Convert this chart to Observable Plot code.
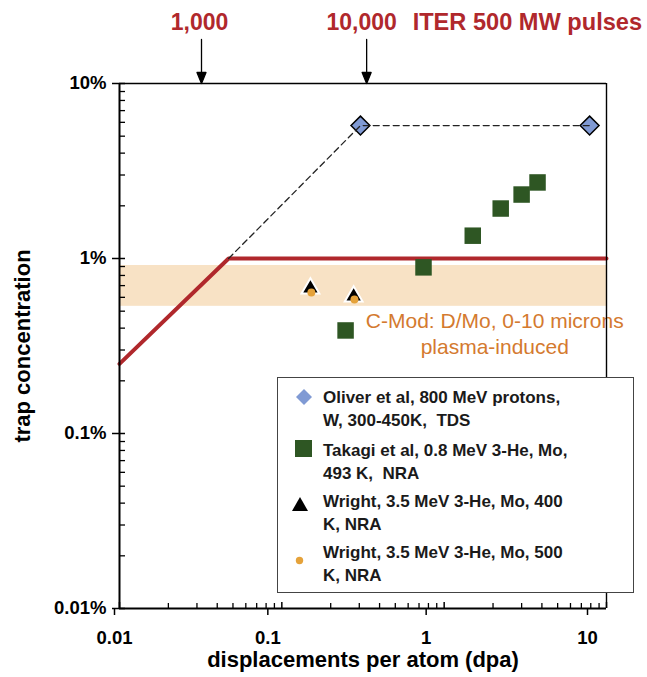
<!DOCTYPE html>
<html>
<head>
<meta charset="utf-8">
<script src="https://cdn.jsdelivr.net/npm/d3@7"></script>
<script src="https://cdn.jsdelivr.net/npm/@observablehq/plot@0.6"></script>
<style>
  html, body { margin: 0; padding: 0; background: #fff; }
  #wrap { position: relative; width: 647px; height: 677px; font-family: "Liberation Sans", Arial, sans-serif; }
  #legend { position: absolute; left: 277px; top: 377px; width: 357px; height: 216px; box-sizing: border-box;
            border: 1.5px solid #444; background: #fff; }
  .entry { position: absolute; left: 45px; font-weight: bold; font-size: 17px; line-height: 23px; color: #1a1a1a; white-space: pre; }
  .mk { position: absolute; }
</style>
</head>
<body>
<div id="wrap"></div>
<script>
// ---- data ----
const xTicks = [0.01, 0.1, 1, 10];
const yTicks = [0.01, 0.1, 1, 10];            // percent
const oliverDpa = [0.305, 7.87];
const oliverConc = [5.75, 5.75];
const takagiDpa = [0.247, 0.746, 1.50, 2.23, 3.0, 3.76];
const takagiConc = [0.388, 0.89, 1.35, 1.93, 2.32, 2.72];
const wright400Dpa = [0.150, 0.277];
const wright400Conc = [0.674, 0.607];
const wright500Dpa = [0.152, 0.28];
const wright500Conc = [0.64, 0.583];
const modelDpa = [0.01, 0.047, 10];
const modelConc = [0.25, 1, 1];
const trendDpa = [0.047, 0.305, 7.87];
const trendConc = [1, 5.75, 5.75];
const bandConc = [0.533, 0.912];
const pulseLabels = ["1,000", "10,000"];
const pulseDpa = [0.032, 0.333];
const pulseTitle = "ITER 500 MW pulses";
const cmodText = "C-Mod: D/Mo, 0-10 microns\nplasma-induced";
const cmodPos = {dpa: 2.05, conc: 0.378};
const legendLabels = [
  "Oliver et al, 800 MeV protons,\nW, 300-450K,  TDS",
  "Takagi et al, 0.8 MeV 3-He, Mo,\n493 K,  NRA",
  "Wright, 3.5 MeV 3-He, Mo, 400\nK, NRA",
  "Wright, 3.5 MeV 3-He, Mo, 500\nK, NRA"
];

const zip = (xs, ys) => xs.map((x, i) => ({x, y: ys[i]}));
const minorOf = (ticks) => {
  const out = [];
  for (let i = 0; i < ticks.length - 1; i++) for (let k = 2; k <= 9; k++) out.push(ticks[i] * k);
  return out;
};

const W = 647, H = 677, mL = 119, mR = 41, mT = 83, mB = 69;
const fw = W - mL - mR, fh = H - mT - mB;
const RED = "#B0282C";
const font = "Liberation Sans, Arial, sans-serif";
const xLabelShift = [-5, -14, -18, -19];
const pulseShift = [-2, -5];
const yTop = yTicks[yTicks.length - 1];

const arrowShape = {
  draw(c, l) {
    c.moveTo(0, 0); c.lineTo(0, -l + 9);
    c.moveTo(0, -l); c.lineTo(-4.5, -l + 11); c.lineTo(4.5, -l + 11); c.closePath();
  }
};

const chart = Plot.plot({
  width: W, height: H,
  marginLeft: mL, marginRight: mR, marginTop: mT, marginBottom: mB,
  style: {fontFamily: font, background: "transparent", overflow: "visible"},
  x: {type: "log", domain: [xTicks[0], xTicks[xTicks.length - 1]]},
  y: {type: "log", domain: [yTicks[0], yTop]},
  marks: [
    // band
    Plot.rect([bandConc], {x1: xTicks[0], x2: xTicks[xTicks.length - 1], y1: d => d[0], y2: d => d[1], fill: "#F8E2C5"}),
    // model line
    Plot.line(zip(modelDpa, modelConc), {x: "x", y: "y", stroke: RED, strokeWidth: 4}),
    // data
    Plot.dot(zip(oliverDpa, oliverConc), {x: "x", y: "y", symbol: "diamond2", r: 8.5, fill: "#809AD4", stroke: "#000", strokeWidth: 1.5}),
    Plot.line(zip(trendDpa, trendConc), {x: "x", y: "y", stroke: "#222", strokeWidth: 1.3, strokeDasharray: "6,4"}),
    Plot.dot(zip(takagiDpa, takagiConc), {x: "x", y: "y", symbol: "square", r: 9.3, fill: "#2E5623"}),
    Plot.dot(zip(wright400Dpa, wright400Conc), {x: "x", y: "y", symbol: "triangle", r: 6.6, fill: "#000", stroke: "#fff", strokeWidth: 2}),
    Plot.dot(zip(wright500Dpa, wright500Conc), {x: "x", y: "y", r: 4, fill: "#E5A23A"}),
    // annotation text
    Plot.text([cmodPos], {x: "dpa", y: "conc", text: () => cmodText, fill: "#D47A2F", fontSize: 21, lineHeight: 1.24, textAnchor: "middle", lineAnchor: "middle"}),
    // frame
    Plot.ruleY([yTop], {stroke: "#000", strokeWidth: 1.4}),
    Plot.ruleX([xTicks[xTicks.length - 1]], {stroke: "#000", strokeWidth: 1.4}),
    Plot.ruleY([yTicks[0]], {stroke: "#000", strokeWidth: 2}),
    Plot.ruleX([xTicks[0]], {stroke: "#000", strokeWidth: 2}),
    // inner ticks
    Plot.tickX(minorOf(xTicks), {x: d => d, insetTop: fh - 5, stroke: "#000", strokeWidth: 1.3}),
    Plot.tickX(xTicks, {x: d => d, insetTop: fh - 6, stroke: "#000", strokeWidth: 1.5}),
    Plot.tickY(minorOf(yTicks), {y: d => d, insetRight: fw - 6, stroke: "#000", strokeWidth: 1.3}),
    Plot.tickY(yTicks, {y: d => d, insetRight: fw - 6, stroke: "#000", strokeWidth: 1.5}),
    // axes
    ...xTicks.map((t, i) => Plot.axisX([t], {tickSize: 7, tickPadding: 15, fontSize: 18.5, fontWeight: "bold", dx: xLabelShift[i], tickFormat: d => String(d), strokeWidth: 1.5, label: null, fill: "#000"})),
    Plot.axisY(yTicks, {tickSize: 7, tickPadding: 6, fontSize: 18.5, fontWeight: "bold", tickFormat: d => d + "%", strokeWidth: 1.5, label: null, fill: "#000"}),
    // axis titles
    Plot.text(["displacements per atom (dpa)"], {text: d => d, frameAnchor: "bottom", dy: 58, fontSize: 22, fontWeight: "bold", fill: "#000"}),
    Plot.text(["trap concentration"], {text: d => d, frameAnchor: "left", textAnchor: "middle", rotate: -90, dx: -97, fontSize: 22, fontWeight: "bold", fill: "#000"}),
    // pulse arrows + labels
    Plot.vector(pulseDpa, {x: d => d, y: yTop, length: 44, rotate: 180, anchor: "end", shape: arrowShape, stroke: "#000", fill: "#000", strokeWidth: 1.3}),
    ...pulseDpa.map((p, i) => Plot.text([p], {x: d => d, y: yTop, text: () => pulseLabels[i], dx: pulseShift[i], dy: -61, fontSize: 23, fontWeight: "bold", fill: RED})),
    Plot.text([pulseDpa[1]], {x: d => d, y: yTop, text: () => pulseTitle, textAnchor: "start", dx: 46, dy: -61, fontSize: 23.6, fontWeight: "bold", fill: RED})
  ]
});

const wrap = document.getElementById("wrap");
wrap.appendChild(chart);

// legend
const legend = document.createElement("div");
legend.id = "legend";
const markers = [
  {cx: 26, cy: 19, svg: '<svg width="18" height="18"><path d="M9,1L17,9L9,17L1,9Z" fill="#809AD4"/></svg>', s: 18},
  {cx: 25, cy: 70, svg: '<svg width="17" height="17"><rect width="17" height="17" fill="#2E5623"/></svg>', s: 17},
  {cx: 22, cy: 126, svg: '<svg width="18" height="18"><path d="M9,2L17,16L1,16Z" fill="#000"/></svg>', s: 18},
  {cx: 21, cy: 177, svg: '<svg width="9" height="9"><circle cx="4.5" cy="4.5" r="3.7" fill="#E5A23A"/></svg>', s: 9}
];
const entryTops = [8, 61, 112, 163];
legendLabels.forEach((lab, i) => {
  const m = markers[i];
  const mk = document.createElement("div");
  mk.className = "mk";
  mk.style.left = (m.cx - m.s / 2) + "px";
  mk.style.top = (m.cy - m.s / 2) + "px";
  mk.style.width = m.s + "px"; mk.style.height = m.s + "px";
  mk.innerHTML = m.svg;
  legend.appendChild(mk);
  const t = document.createElement("div");
  t.className = "entry";
  t.style.top = entryTops[i] + "px";
  t.textContent = lab;
  legend.appendChild(t);
});
wrap.appendChild(legend);
</script>
</body>
</html>
